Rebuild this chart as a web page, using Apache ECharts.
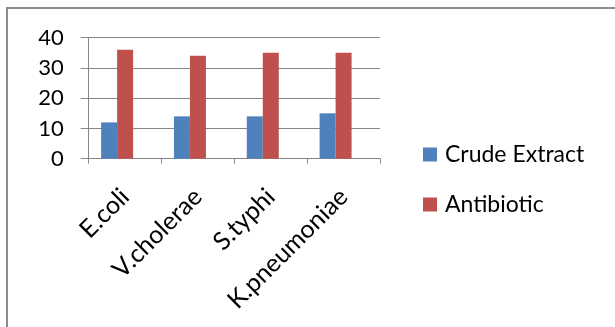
<!DOCTYPE html>
<html>
<head>
<meta charset="utf-8">
<script src="https://cdn.jsdelivr.net/npm/echarts@6/dist/echarts.min.js"></script>
<style>
  html, body { margin: 0; padding: 0; background: #fff; }
  #chart { width: 615px; height: 327px; }
</style>
</head>
<body>
<div id="chart"></div>
<script>
// Zone of inhibition per organism
const categories = ['E.coli', 'V.cholerae', 'S.typhi', 'K.pneumoniae'];
const crudeExtract = [12, 14, 14, 15];
const antibiotic = [36, 34, 35, 35];
const yTicks = { min: 0, max: 40, interval: 10 };

const FONT = 'Lato';
const GRAY = '#868686';

const chart = echarts.init(document.getElementById('chart'));
chart.setOption({
  animation: false,
  backgroundColor: '#fff',
  textStyle: { fontFamily: FONT },
  graphic: [
    { type: 'rect', shape: { x: 6, y: 7, width: 609, height: 2 }, style: { fill: '#8c8c8c' }, silent: true },
    { type: 'rect', shape: { x: 6, y: 7, width: 2, height: 320 }, style: { fill: '#8c8c8c' }, silent: true }
  ],
  grid: {
    left: 88.7, right: 235, top: 37.7, bottom: 168.3,
    containLabel: false, outerBoundsMode: 'none'
  },
  legend: {
    data: ['Crude Extract', 'Antibiotic'],
    orient: 'vertical',
    left: 423,
    top: 143,
    padding: 0,
    itemWidth: 14,
    itemHeight: 14,
    itemGap: 27,
    icon: 'rect',
    textStyle: { fontFamily: FONT, fontSize: 23, color: '#000', padding: [0, 0, 0, 3] }
  },
  xAxis: {
    type: 'category',
    data: categories,
    axisLine: { lineStyle: { color: GRAY, width: 1 } },
    axisTick: { show: true, length: 5, lineStyle: { color: GRAY } },
    axisLabel: { rotate: 45, fontFamily: FONT, fontSize: 25, color: '#000', margin: 34 }
  },
  yAxis: {
    type: 'value',
    min: yTicks.min,
    max: yTicks.max,
    interval: yTicks.interval,
    axisLine: { show: true, lineStyle: { color: GRAY, width: 1 } },
    axisTick: { show: true, length: 8, lineStyle: { color: GRAY } },
    splitLine: { lineStyle: { color: GRAY, width: 1 } },
    axisLabel: { fontFamily: FONT, fontSize: 22, color: '#000', margin: 25 }
  },
  series: [
    {
      name: 'Crude Extract', type: 'bar', data: crudeExtract,
      barWidth: 16, barGap: '0%', barCategoryGap: '34%',
      itemStyle: { color: '#4f81bd' }
    },
    {
      name: 'Antibiotic', type: 'bar', data: antibiotic,
      barWidth: 16, barGap: '0%',
      itemStyle: { color: '#c0504d' }
    },
    {
      // empty third slot keeps the pair left of the category centre
      name: 'spacer', type: 'bar', data: [],
      barWidth: 16, barGap: '0%'
    }
  ]
});
</script>
</body>
</html>
